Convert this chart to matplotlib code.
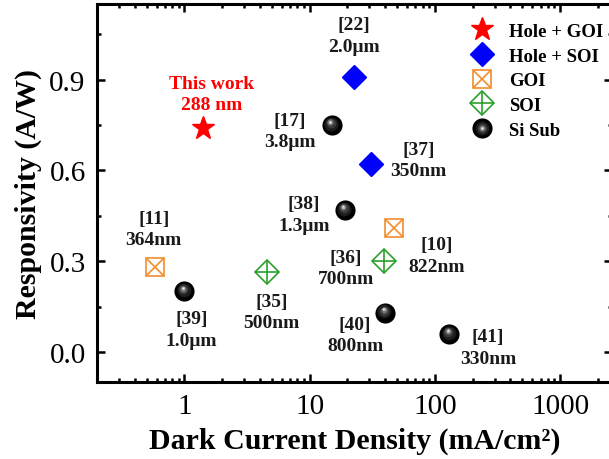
import matplotlib
matplotlib.use("Agg")
import matplotlib.pyplot as plt
import matplotlib.transforms as mtransforms
from matplotlib.lines import Line2D
from matplotlib.legend_handler import HandlerTuple
from matplotlib.ticker import LogLocator, MultipleLocator, NullFormatter

plt.rcParams['font.family'] = ['Liberation Serif', 'DejaVu Serif']

# dark current density (mA/cm2) vs responsivity (A/W)
hole_goi_x = [1.4]
hole_goi_y = [0.74]
hole_goi_refs = ['This work\n288 nm']

hole_soi_x = [22.5, 31]
hole_soi_y = [0.91, 0.62]
hole_soi_refs = ['[22]\n2.0μm', '[37]\n350nm']

goi_x = [0.58, 47]
goi_y = [0.28, 0.41]
goi_refs = ['[11]\n364nm', '[10]\n822nm']

soi_x = [4.6, 39]
soi_y = [0.265, 0.30]
soi_refs = ['[35]\n500nm', '[36]\n700nm']

si_x = [15, 19, 1.0, 40, 130]
si_y = [0.75, 0.47, 0.20, 0.13, 0.06]
si_refs = ['[17]\n3.8μm', '[38]\n1.3μm', '[39]\n1.0μm', '[40]\n800nm', '[41]\n330nm']

ORANGE = '#f28e2b'
GREEN = '#2ca02c'

fig = plt.figure(figsize=(6.09, 4.6), dpi=100)
ax = fig.add_axes([0.159, 0.167, 0.846, 0.822])

# markers
ax.plot(hole_goi_x, hole_goi_y, ls='none', marker='*', ms=17, color='red', mec='red')
ax.plot(hole_soi_x, hole_soi_y, ls='none', marker='D', ms=12.5, color='blue', mec='blue')
ax.plot(goi_x, goi_y, ls='none', marker='s', ms=12.5, mfc='none', mec=ORANGE, mew=1.2)
ax.plot(goi_x, goi_y, ls='none', marker='x', ms=12.5, mec=ORANGE, mew=1.2)
ax.plot(soi_x, soi_y, ls='none', marker='D', ms=12.5, mfc='none', mec=GREEN, mew=1.2)
ax.plot(soi_x, soi_y, ls='none', marker='+', ms=17.7, mec=GREEN, mew=1.2)

# shaded spheres for the Si substrate devices
sphere_layers = [(14.5, 'black', 0, 0), (10, '#1c1c1c', -0.6, 1.2),
                 (7, '#3a3a3a', -1.0, 2.0), (4.5, '#707070', -1.3, 2.8),
                 (2.5, '#b5b5b5', -1.5, 3.2), (1.2, '#f0f0f0', -1.6, 3.4)]
for ms, c, dx, dy in sphere_layers:
    tr = mtransforms.offset_copy(ax.transData, fig=fig, x=dx, y=dy, units='dots')
    ax.plot(si_x, si_y, ls='none', marker='o', ms=ms, color=c, mec=c, mew=0, transform=tr)

# reference labels, offsets in points from each marker
label_font = dict(fontsize=14, fontweight='bold', ha='center', va='center',
                  linespacing=1.35, textcoords='offset points')
ax.annotate(hole_goi_refs[0], (hole_goi_x[0], hole_goi_y[0]), xytext=(6.5, 24.5),
            color='red', **label_font)
offsets = {
    '[22]': (0, 29.5), '[37]': (34, 3), '[11]': (-0.7, 27.4), '[10]': (31, -20),
    '[35]': (3, -29), '[36]': (-27, -5), '[17]': (-30, -4.3), '[38]': (-29, -3.6),
    '[39]': (5, -27.4), '[40]': (-21.6, -16), '[41]': (28, -10),
}
for xs, ys, refs in [(hole_soi_x, hole_soi_y, hole_soi_refs), (goi_x, goi_y, goi_refs),
                     (soi_x, soi_y, soi_refs), (si_x, si_y, si_refs)]:
    for x, y, r in zip(xs, ys, refs):
        ax.annotate(r, (x, y), xytext=offsets[r.split('\n')[0]], color='#1a1a1a', **label_font)

# axes
ax.set_xscale('log')
ax.set_xlim(0.2, 2600)
ax.set_ylim(-0.1, 1.15)
ax.xaxis.set_minor_locator(LogLocator(base=10, subs=range(2, 10), numticks=20))
ax.xaxis.set_minor_formatter(NullFormatter())
ax.set_xticks([1, 10, 100, 1000])
ax.set_xticklabels(['1', '10', '100', '1000'])
ax.yaxis.set_minor_locator(MultipleLocator(0.15))
ax.set_yticks([0.0, 0.3, 0.6, 0.9])
ax.set_yticklabels(['0.0', '0.3', '0.6', '0.9'])

for s in ax.spines.values():
    s.set_linewidth(2.2)
ax.tick_params(which='both', direction='in', top=True, right=True, width=1.8)
ax.tick_params(which='major', length=6, labelsize=21, pad=8)
ax.tick_params(which='minor', length=3)

ax.set_xlabel('Dark Current Density (mA/cm²)', fontsize=21.5, fontweight='bold', labelpad=5)
ax.set_ylabel('Responsivity (A/W)', fontsize=21.5, fontweight='bold', labelpad=5)

# legend
sphere_handle = tuple(Line2D([], [], ls='none', marker='o', ms=ms, color=c, mew=0)
                      for ms, c, _, _ in sphere_layers)
handles = [
    Line2D([], [], ls='none', marker='*', ms=17, color='red'),
    Line2D([], [], ls='none', marker='D', ms=12.5, color='blue'),
    (Line2D([], [], ls='none', marker='s', ms=12.5, mfc='none', mec=ORANGE, mew=1.2),
     Line2D([], [], ls='none', marker='x', ms=12.5, mec=ORANGE, mew=1.2)),
    (Line2D([], [], ls='none', marker='D', ms=12.5, mfc='none', mec=GREEN, mew=1.2),
     Line2D([], [], ls='none', marker='+', ms=17.7, mec=GREEN, mew=1.2)),
    sphere_handle,
]
labels = ['Hole + GOI', 'Hole + SOI', 'GOI', 'SOI', 'Si Sub']
ax.legend(handles, labels, loc='upper left', bbox_to_anchor=(0.703, 0.975), frameon=False,
          prop=dict(size=13.5, weight='bold'), handler_map={tuple: HandlerTuple(ndivide=1, pad=0)},
          handlelength=1.4, handletextpad=0.75, labelspacing=0.4, borderpad=0)

fig.savefig('out.png', dpi=100)
